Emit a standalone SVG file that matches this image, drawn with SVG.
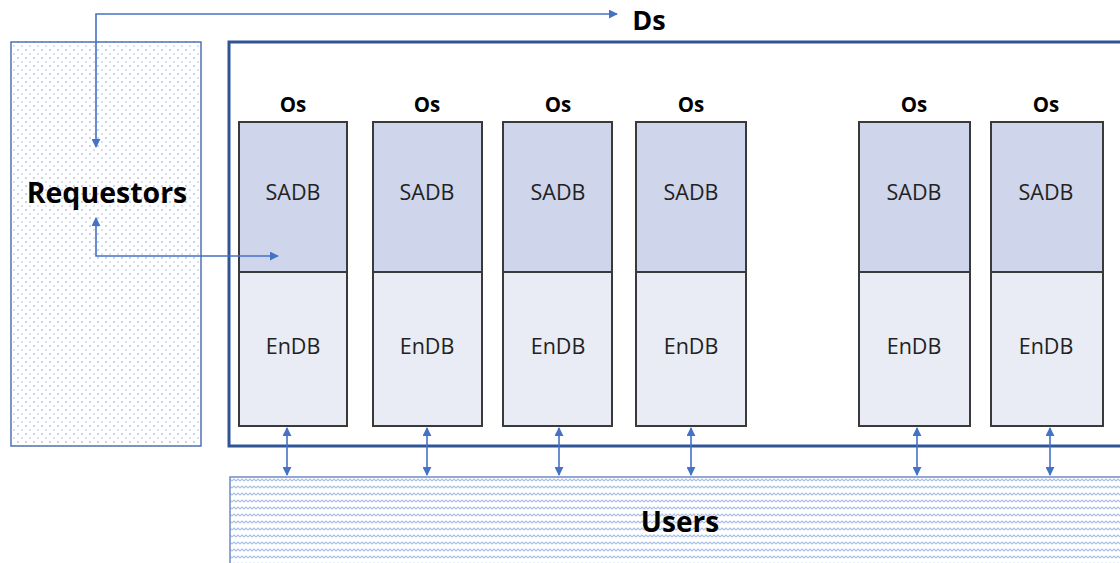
<svg xmlns="http://www.w3.org/2000/svg" width="1120" height="563" viewBox="0 0 1120 563">
<style>
.bold{font-family:"Open Sans","Noto Sans","Liberation Sans",sans-serif;font-weight:bold;fill:#000;text-anchor:middle}
.lbl{font-family:"Open Sans","Noto Sans","Liberation Sans",sans-serif;font-size:21.5px;fill:#222;text-anchor:middle}
.sadb{fill:#cfd5ea;stroke:#3a3a3a;stroke-width:2}
.endb{fill:#e9ebf5;stroke:#3a3a3a;stroke-width:2}
.conn{fill:none;stroke:#4472c4;stroke-width:1.6}
</style>
<defs>
<pattern id="dots" width="8" height="8" patternUnits="userSpaceOnUse">
<rect x="1" y="1" width="2" height="2" fill="#c5d3ec"/>
<rect x="5" y="5" width="2" height="2" fill="#d6e0f2"/>
</pattern>
<pattern id="waves" width="8" height="7" patternUnits="userSpaceOnUse">
<path d="M0,5 L2,3 L4,5 L6,3 L8,5" fill="none" stroke="#a9bfe5" stroke-width="1.2"/>
</pattern>
<marker id="ah" viewBox="0 0 10 10" refX="9" refY="5" markerWidth="9" markerHeight="9" markerUnits="userSpaceOnUse" orient="auto-start-reverse">
<path d="M0,0 L10,5 L0,10 Z" fill="#4472c4"/>
</marker>
</defs>
<g id="requestors">
<rect x="11" y="42" width="190" height="404" fill="#fff"/>
<rect x="11" y="42" width="190" height="404" fill="url(#dots)" stroke="#4f72b0" stroke-width="1.5"/>
<text class="bold" x="107" y="203" font-size="28.5">Requestors</text>
</g>
<g id="ds">
<rect x="229" y="42" width="900" height="404" fill="#fff" stroke="#2f5597" stroke-width="3"/>
<text class="bold" x="649" y="30" font-size="27">Ds</text>
</g>
<g id="os1">
<text class="bold" x="293" y="112" font-size="20.5">Os</text>
<rect class="sadb" x="239" y="122" width="108" height="150"/>
<rect class="endb" x="239" y="272" width="108" height="154"/>
<text class="lbl" x="293" y="200">SADB</text>
<text class="lbl" x="293" y="354">EnDB</text>
</g>
<g id="os2">
<text class="bold" x="427" y="112" font-size="20.5">Os</text>
<rect class="sadb" x="373" y="122" width="109" height="150"/>
<rect class="endb" x="373" y="272" width="109" height="154"/>
<text class="lbl" x="427" y="200">SADB</text>
<text class="lbl" x="427" y="354">EnDB</text>
</g>
<g id="os3">
<text class="bold" x="558" y="112" font-size="20.5">Os</text>
<rect class="sadb" x="503" y="122" width="109" height="150"/>
<rect class="endb" x="503" y="272" width="109" height="154"/>
<text class="lbl" x="558" y="200">SADB</text>
<text class="lbl" x="558" y="354">EnDB</text>
</g>
<g id="os4">
<text class="bold" x="691" y="112" font-size="20.5">Os</text>
<rect class="sadb" x="636" y="122" width="110" height="150"/>
<rect class="endb" x="636" y="272" width="110" height="154"/>
<text class="lbl" x="691" y="200">SADB</text>
<text class="lbl" x="691" y="354">EnDB</text>
</g>
<g id="os5">
<text class="bold" x="914" y="112" font-size="20.5">Os</text>
<rect class="sadb" x="859" y="122" width="111" height="150"/>
<rect class="endb" x="859" y="272" width="111" height="154"/>
<text class="lbl" x="914" y="200">SADB</text>
<text class="lbl" x="914" y="354">EnDB</text>
</g>
<g id="os6">
<text class="bold" x="1046" y="112" font-size="20.5">Os</text>
<rect class="sadb" x="991" y="122" width="112" height="150"/>
<rect class="endb" x="991" y="272" width="112" height="154"/>
<text class="lbl" x="1046" y="200">SADB</text>
<text class="lbl" x="1046" y="354">EnDB</text>
</g>
<g id="users">
<rect x="230" y="477" width="900" height="95" fill="#fff"/>
<rect x="230" y="477" width="900" height="95" fill="url(#waves)" stroke="#6d8cc4" stroke-width="1.5"/>
<text class="bold" x="680" y="532" font-size="28">Users</text>
</g>
<g id="connectors">
<path class="conn" d="M96,147 V14 H617" marker-start="url(#ah)" marker-end="url(#ah)"/>
<path class="conn" d="M96,218 V256 H278" marker-start="url(#ah)" marker-end="url(#ah)"/>
<path class="conn" d="M287,428 V475" marker-start="url(#ah)" marker-end="url(#ah)"/>
<path class="conn" d="M427,428 V475" marker-start="url(#ah)" marker-end="url(#ah)"/>
<path class="conn" d="M559,428 V475" marker-start="url(#ah)" marker-end="url(#ah)"/>
<path class="conn" d="M691,428 V475" marker-start="url(#ah)" marker-end="url(#ah)"/>
<path class="conn" d="M917,428 V475" marker-start="url(#ah)" marker-end="url(#ah)"/>
<path class="conn" d="M1050,428 V475" marker-start="url(#ah)" marker-end="url(#ah)"/>
</g>
</svg>
